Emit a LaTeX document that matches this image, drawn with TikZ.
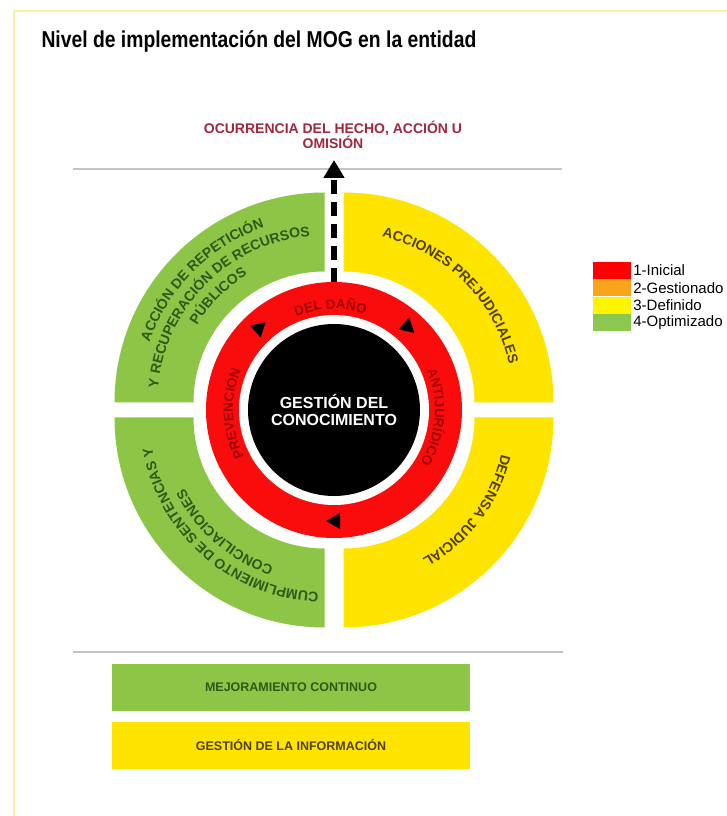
\documentclass[tikz,border=0pt]{standalone}
\usepackage{fontspec}
\setmainfont{Liberation Sans}
\usetikzlibrary{arrows.meta,positioning,decorations.text}

\definecolor{mogverde}{RGB}{141,198,71}
\definecolor{mogamarillo}{RGB}{255,228,0}
\definecolor{mogrojo}{RGB}{250,12,12}
\definecolor{verdeosc}{RGB}{45,90,25}
\definecolor{ocre}{RGB}{80,65,0}
\definecolor{anillotexto}{RGB}{160,0,0}
\definecolor{granate}{RGB}{160,40,60}
\definecolor{lineagris}{RGB}{195,195,195}
\definecolor{marco}{RGB}{248,243,160}
\definecolor{legrojo}{RGB}{255,0,0}
\definecolor{legnaranja}{RGB}{250,165,25}
\definecolor{legamarillo}{RGB}{255,245,0}
\definecolor{legverde}{RGB}{140,200,80}

\newcommand{\curvafont}{\fontsize{14}{14}\selectfont\bfseries}
\newcommand{\anillofont}{\fontsize{13.5}{13.5}\selectfont\bfseries}

\begin{document}
\begin{tikzpicture}[x=1pt, y=1pt,
	linea/.style={draw=lineagris, line width=1.5},
	flecha/.style={-{Triangle[width=20,length=18]}, line width=6, dash pattern=on 14 off 8},
	caja/.style={minimum width=358, minimum height=47, inner sep=0, font=\fontsize{12.5}{12.5}\selectfont\bfseries},
	leyenda/.style={minimum width=38, minimum height=17, inner sep=0},
	legtexto/.style={inner sep=0, font=\fontsize{15}{15}\selectfont},
	curva/.style={decorate, decoration={text along path, text align=center, text color=#1}}]
	  \useasboundingbox (-334,-406) rectangle (393,410);
	  \fill[white] (-334,-406) rectangle (393,410);
	  \clip (-334,-406) rectangle (393,410);
	  \draw[marco, line width=2] (-320,-406) -- (-320,399) -- (393,399);
	  \node[anchor=base west, font=\fontsize{23}{23}\selectfont\bfseries] (titulo) at (-296,362) {\scalebox{0.84}[1]{Nivel de implementación del MOG en la entidad}};
	  \node[align=center, text=granate, font=\fontsize{14}{15}\selectfont\bfseries] (ocurrencia) at (-1,275) {OCURRENCIA DEL HECHO, ACCIÓN U\\OMISIÓN};
	  \draw[linea] (-261,241) -- (228,241);
	  % cuadrantes
	  \fill[mogverde, shift={(-9.5,7.5)}] (90:131) -- (90:210) arc (90:180:210) -- (180:131) arc (180:90:131) -- cycle;
	  \fill[mogamarillo, shift={(9.5,7.5)}] (0:131) -- (0:210) arc (0:90:210) -- (90:131) arc (90:0:131) -- cycle;
	  \fill[mogamarillo, shift={(9.5,-7.5)}] (270:131) -- (270:210) arc (270:360:210) -- (0:131) arc (360:270:131) -- cycle;
	  \fill[mogverde, shift={(-9.5,-7.5)}] (180:131) -- (180:210) arc (180:270:210) -- (270:131) arc (270:180:131) -- cycle;
	  \path[curva=verdeosc, shift={(-9.5,7.5)}, decoration={text={|\curvafont|ACCIÓN DE REPETICIÓN}}] (180:185) arc (180:90:185);
	  \path[curva=verdeosc, shift={(-9.5,7.5)}, decoration={text={|\curvafont|Y RECUPERACIÓN DE RECURSOS}}] (180:167) arc (180:90:167);
	  \path[curva=verdeosc, shift={(-9.5,7.5)}, decoration={text={|\curvafont|PÚBLICOS}}] (180:149) arc (180:90:149);
	  \path[curva=ocre, shift={(9.5,7.5)}, decoration={text={|\curvafont|ACCIONES PREJUDICIALES}}] (90:170) arc (90:0:170);
	  \path[curva=ocre, shift={(9.5,-7.5)}, decoration={text={|\curvafont|DEFENSA JUDICIAL}}] (8:162) arc (8:-82:162);
	  \path[curva=verdeosc, shift={(-9.5,-7.5)}, decoration={text={|\curvafont|CUMPLIMIENTO DE SENTENCIAS Y}}] (274:175) arc (274:184:175);
	  \path[curva=verdeosc, shift={(-9.5,-7.5)}, decoration={text={|\curvafont|CONCILIACIONES}}] (274:157) arc (274:184:157);
	  % anillo rojo
	  \fill[mogrojo] (0,0) circle (128);
	  \fill[white] (0,0) circle (95);
	  \path[curva=anillotexto, decoration={text={|\anillofont|PREVENCIÓN}}] (227:101) arc (227:137:101);
	  \path[curva=anillotexto, decoration={text={|\anillofont|DEL DAÑO}}] (137:101) arc (137:47:101);
	  \path[curva=anillotexto, decoration={text={|\anillofont|ANTIJURÍDICO}}] (41:101) arc (41:-49:101);
	  \fill[shift={(132:111)}, rotate=42] (8,0) -- (-6,8) -- (-6,-8) -- cycle;
	  \fill[shift={(48:111)}, rotate=-42] (8,0) -- (-6,8) -- (-6,-8) -- cycle;
	  \fill[shift={(-90:111)}, rotate=180] (8,0) -- (-6,8) -- (-6,-8) -- cycle;
	  \node[circle, fill=black, minimum size=172, inner sep=0, text=white, align=center, font=\fontsize{16}{17}\selectfont\bfseries] (conocimiento) at (0,0) {GESTIÓN DEL\\CONOCIMIENTO};
	  \coordinate (bordeanillo) at (90:128);
	  \coordinate (puntaflecha) at (0,250);
	  \draw[flecha] (bordeanillo) -- (puntaflecha);
	  % leyenda
	  \node[leyenda, fill=legrojo] (rojo) at (278,139.5) {};
	  \node[leyenda, fill=legnaranja, below=0pt of rojo] (naranja) {};
	  \node[leyenda, fill=legamarillo, below=0pt of naranja] (amarillo) {};
	  \node[leyenda, fill=legverde, below=0pt of amarillo] (verde) {};
	  \node[legtexto, right=2pt of rojo] (inicial) {1-Inicial};
	  \node[legtexto, right=2pt of naranja] (gestionado) {2-Gestionado};
	  \node[legtexto, right=2pt of amarillo] (definido) {3-Definido};
	  \node[legtexto, right=2pt of verde] (optimizado) {4-Optimizado};
	  % franjas de abajo
	  \draw[linea] (-261,-242) -- (229,-242);
	  \node[caja, fill=mogverde, text=verdeosc] (mejora) at (-43,-277) {MEJORAMIENTO CONTINUO};
	  \node[caja, fill=mogamarillo, text=ocre, below=11pt of mejora] (informacion) {GESTIÓN DE LA INFORMACIÓN};
\end{tikzpicture}
\end{document}
